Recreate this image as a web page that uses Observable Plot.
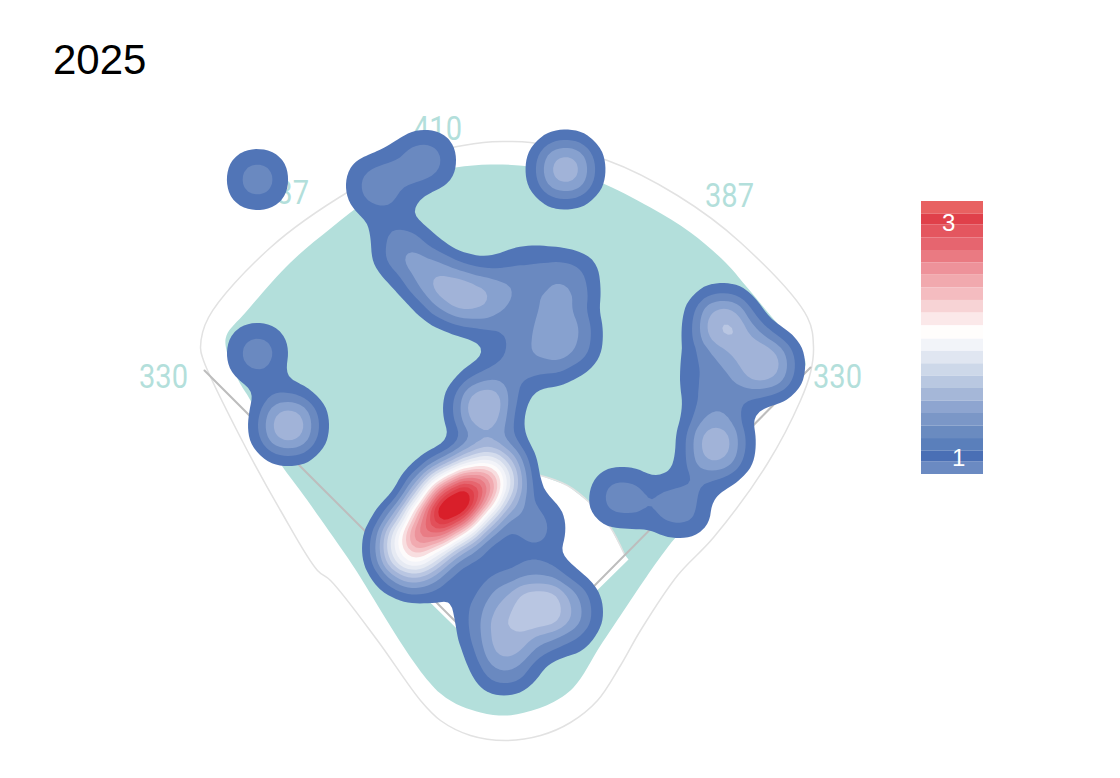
<!DOCTYPE html>
<html><head><meta charset="utf-8">
<script src="https://cdn.jsdelivr.net/npm/d3@7"></script>
<script src="https://cdn.jsdelivr.net/npm/@observablehq/plot@0.6"></script>
<style>
html,body{margin:0;padding:0;background:#fff;overflow:hidden}
#page{position:relative;width:1120px;height:778px}
#title{position:absolute;left:53px;top:36px;font:42px "Liberation Sans",sans-serif;color:#000;line-height:48px}
#chart{position:absolute;left:0;top:100px}
#legend{position:absolute;left:921px;top:201px}
svg{display:block}
</style></head><body>
<div id="page"><div id="title">2025</div><div id="chart"></div><div id="legend"></div></div>
<script>
const title = "2025";
// batted-ball locations: [x, y, weight], home plate at the origin
const hits = [
[-250,494,1],[58,504,1.9],[-250,320,1],[-219,248,2],[-82,513,1],[-131,488,1],
[-107,426,.9],[-80,398,.8],[-57,381,.9],[-37,373,.8],[-8,376,.8],
[63,393,.9],[65,333,.9],[43,358,.7],[38,313,.6],[8,328,.3],[18,405,.55],[-2,308,.4],
[-24,265,2],[-55,168,3.2],[-46,153,1.5],[-64,183,1.5],[-29,186,3],[-79,147,3],[-10,200,2],[-102,126,2.5],[-87,103,1],
[28,148,.9],[30,67,1.5],[-2,68,.5],[65,65,.9],[33,95,.4],[-27,51,.55],[3,33,.8],[-4,8,.9],[53,38,.4],[-17,81,.2],[-23,105,.3],
[215,351,1.85],[258,308,1.85],[236,328,.25],[195,301,.5],[211,273,.65],[208,226,1.85],[113,176,1],[173,166,1]
];
const grass = [[-281,338],[-262,361],[-217,411],[-177,445],[-137,475],[-92,497],[-52,506],[-17,509],[23,507],[68,499],[93,491],[143,466],[183,441],[218,411],[238,388],[263,358],[288,328],[298,308],[263,278],[233,233],[200,173],[160,126],[113,58],[93,28],[66,-14],[43,-30],[13,-40],[-2,-42],[-27,-39],[-67,-20],[-160,116],[-200,173],[-232,218],[-257,273],[-269,293],[-281,323]];
const fence = [[-304,313],[-307,326],[-299,356],[-237,426],[-157,483],[-87,518],[-24,531],[-2,532],[23,531],[100,513],[170,478],[233,431],[300,356],[306,326],[303,301],[293,273],[260,210],[206,136],[170,98],[133,43],[113,8],[90,-27],[63,-49],[33,-62],[-2,-67],[-37,-62],[-67,-47],[-87,-27],[-130,33],[-177,93],[-190,103],[-227,163],[-267,236]];
const infieldFan = [[0,-5],[121,114],[117,119],[103,146],[83,170],[60,188],[33,198],[0,203],[-33,198],[-60,188],[-83,170],[-103,146],[-117,119],[-121,114]];
const infieldArc = [[117,119],[103,146],[83,170],[60,188],[33,198],[0,203],[-33,198],[-60,188],[-83,170],[-103,146],[-117,119]];
const foulLeft = [[-303,303],[0,0]];
const foulRight = [[303,306],[0,0]];
const distances = [["330",-344,296],["337",-223,480],["410",-70,544],["387",222,477],["330",330,296]];
const levels = [.0127,.0254,.0381,.0508,.0635,.0762,.0889,.1016,.1143,.127,.1397,.1524,.1651,.1778,.1905,.2032,.2159,.2286];
const levelColors = ["#5175b7","#6a89c0","#87a1cf","#a1b3d8","#b9c6e2","#d3dbec","#e6eaf3","#f3f4f9","#fdfbfb","#f8dee0","#f5c3c7","#f1aab0","#ec939b","#e97c85","#e6666f","#e2505a","#df3f49","#d91f2a"];
const legendEdges = [3.187,3.079,2.986,2.878,2.770,2.666,2.560,2.453,2.345,2.237,2.129,2.015,1.911,1.806,1.700,1.596,1.488,1.383,1.275,1.170,1.062,0.969,0.864];
const legendColors = ["#e86161","#e0404a","#e4565f","#e6656f","#ea7a82","#ee929a","#f1a9ae","#f4bcc0","#f7d3d5","#fbe8e9","#fffdfc","#f2f4f9","#e0e6f1","#cdd8e9","#b9c8e1","#a5b7d8","#8ea5d0","#7b97c7","#6a8bc0","#5a7fbb","#4a6fb5","#6b8ac2"];
const legendTicks = [[3,0.44],[1,0.60]];

const px = d=>d[0], py = d=>d[1];
document.getElementById("title").textContent = title;
const chart = Plot.plot({
  width:1120, height:678, margin:0,
  x:{domain:[-507,613],axis:null},
  y:{domain:[-105,573],axis:null},
  color:{type:"linear",domain:[levels[0],levels[levels.length-1]],interpolate:d3.piecewise(d3.interpolateRgb,levelColors),clamp:true},
  marks:[
    Plot.line(fence,{x:px,y:py,curve:"catmull-rom-closed",stroke:"#e2e2e2",strokeWidth:1.5}),
    Plot.line(grass,{x:px,y:py,curve:"catmull-rom-closed",fill:"#b3dfdb",stroke:"none"}),
    Plot.line(infieldFan,{x:px,y:py,curve:"linear-closed",fill:"#fff",stroke:"none"}),
    Plot.line(infieldArc,{x:px,y:py,curve:"catmull-rom",stroke:"#e2e2e2",strokeWidth:1.5}),
    Plot.line(foulLeft,{x:px,y:py,stroke:"#bdbdbd",strokeWidth:2}),
    Plot.line(foulRight,{x:px,y:py,stroke:"#bdbdbd",strokeWidth:2}),
    Plot.text(distances,{x:d=>d[1],y:d=>d[2],text:d=>d[0],fill:"#b3dfdb",fontSize:33,fontFamily:"Roboto",textAnchor:"middle",lineAnchor:"middle",
      render(index,scales,values,dims,ctx,next){const g=next(index,scales,values,dims,ctx);g.querySelectorAll("text").forEach(t=>{t.setAttribute("textLength","49");t.setAttribute("lengthAdjust","spacingAndGlyphs")});return g}}),
    Plot.density(hits,{x:px,y:py,weight:d=>d[2],bandwidth:20,thresholds:levels,fill:"density"})
  ]
});
document.getElementById("chart").append(chart);
const bands = legendColors.map((c,i)=>({c,hi:legendEdges[i],lo:legendEdges[i+1]}));
const legend = Plot.plot({
  width:62,height:273,margin:0,
  x:{domain:[0,1],axis:null},
  y:{domain:[legendEdges[legendEdges.length-1],legendEdges[0]],axis:null},
  marks:[
    Plot.rect(bands,{x1:0,x2:1,y1:"lo",y2:"hi",fill:"c"}),
    Plot.text(legendTicks,{x:d=>d[1],y:d=>d[0],text:d=>String(d[0]),fill:"#fff",fontSize:24,fontFamily:"Liberation Sans",textAnchor:"middle",lineAnchor:"middle"})
  ]
});
document.getElementById("legend").append(legend);
</script></body></html>
